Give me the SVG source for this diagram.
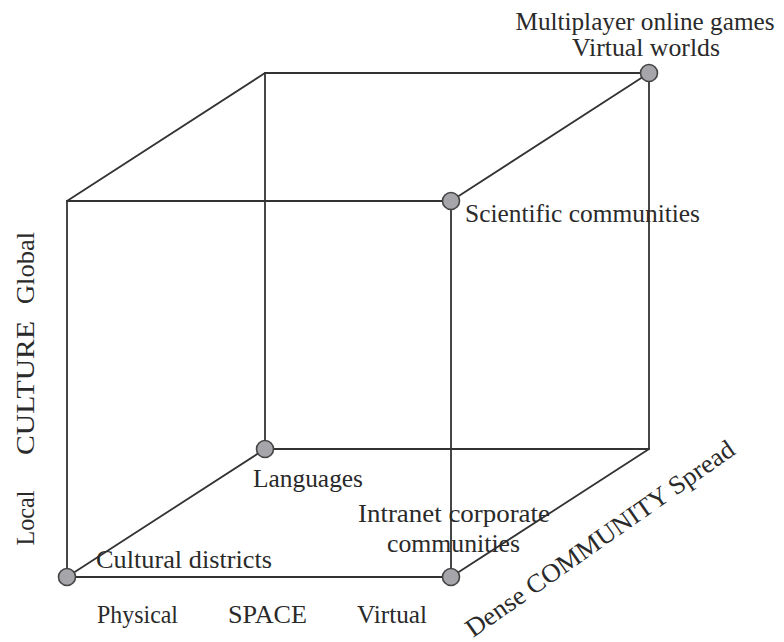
<svg xmlns="http://www.w3.org/2000/svg" width="784" height="642" viewBox="0 0 784 642">
<style>
.edge{stroke:#333;stroke-width:1.8;fill:none;stroke-linecap:round}
.dot{fill:#a6a6aa;stroke:#444;stroke-width:1.6}
text{font-family:"Liberation Serif","Times New Roman",serif;font-size:26px;fill:#2a2a2a}
</style>
<rect width="784" height="642" fill="#fff"/>
<g id="connectors">
<path class="edge" d="M67,201H451V577H67Z"/>
<path class="edge" d="M265,73H649V449H265Z"/>
<path class="edge" d="M67,201L265,73M451,201L649,73M67,577L265,449M451,577L649,449"/>
</g>
<g id="node-games">
<circle class="dot" cx="649" cy="73" r="8.5"/>
<text x="645" y="30" text-anchor="middle" textLength="259" lengthAdjust="spacingAndGlyphs">Multiplayer online games</text>
<text x="646" y="56" text-anchor="middle" textLength="148" lengthAdjust="spacingAndGlyphs">Virtual worlds</text>
</g>
<g id="node-scientific">
<circle class="dot" cx="451" cy="201" r="8.5"/>
<text x="465" y="222" textLength="235" lengthAdjust="spacingAndGlyphs">Scientific communities</text>
</g>
<g id="node-languages">
<circle class="dot" cx="265" cy="449" r="8.5"/>
<text x="253" y="487" textLength="110" lengthAdjust="spacingAndGlyphs">Languages</text>
</g>
<g id="node-intranet">
<circle class="dot" cx="451" cy="577" r="8.5"/>
<text x="358" y="522" textLength="192" lengthAdjust="spacingAndGlyphs">Intranet corporate</text>
<text x="387" y="552" textLength="133" lengthAdjust="spacingAndGlyphs">communities</text>
</g>
<g id="node-cultural">
<circle class="dot" cx="67" cy="577" r="8.5"/>
<text x="96" y="568" textLength="176" lengthAdjust="spacingAndGlyphs">Cultural districts</text>
</g>
<g id="axis-space">
<text x="97" y="623" textLength="81" lengthAdjust="spacingAndGlyphs">Physical</text>
<text x="228" y="623" textLength="79" lengthAdjust="spacingAndGlyphs">SPACE</text>
<text x="357" y="623" textLength="70" lengthAdjust="spacingAndGlyphs">Virtual</text>
</g>
<g id="axis-culture">
<text transform="translate(34,518) rotate(-90)" text-anchor="middle" textLength="55" lengthAdjust="spacingAndGlyphs">Local</text>
<text transform="translate(34,388) rotate(-90)" text-anchor="middle" textLength="134" lengthAdjust="spacingAndGlyphs">CULTURE</text>
<text transform="translate(34,268) rotate(-90)" text-anchor="middle" textLength="72" lengthAdjust="spacingAndGlyphs">Global</text>
</g>
<g id="axis-community">
<text transform="translate(473,638) rotate(-35)" textLength="322" lengthAdjust="spacingAndGlyphs">Dense COMMUNITY Spread</text>
</g>
</svg>
